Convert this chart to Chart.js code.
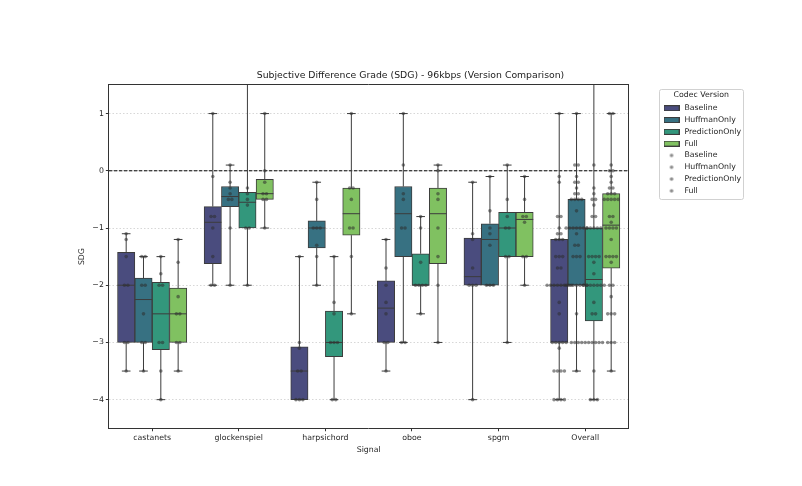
<!DOCTYPE html>
<html>
<head>
<meta charset="utf-8">
<script src="https://cdn.jsdelivr.net/npm/chart.js@4.4.1/dist/chart.umd.min.js"></script>
<style>
  html, body { margin: 0; padding: 0; background: #fff; }
</style>
</head>
<body>
<canvas id="sdgChart" width="802" height="486"></canvas>
<script>
// ─── Data (SDG scores per listener) ───
const signals = ['castanets', 'glockenspiel', 'harpsichord', 'oboe', 'spgm'];
const categories = [...signals, 'Overall'];
const versions = ['Baseline', 'HuffmanOnly', 'PredictionOnly', 'Full'];
const yTicks = [-4, -3, -2, -1, 0, 1];

const baselineScores = [
    [-1.1, -1.2, -1.5, -2, -2, -3, -3, -3.5],
    [1, -0.1, -0.8, -0.8, -1, -1.5, -2, -2],
    [-1.5, -3, -3.1, -3.5, -3.5, -4, -4, -4],
    [-1.2, -1.7, -2, -2.3, -2.5, -3, -3, -3.5],
    [-0.2, -1.1, -1.2, -1.7, -2, -2, -2, -4]
];
const huffmanScores = [
    [-1.5, -1.5, -2, -2, -2.5, -3, -3, -3.5],
    [0.1, -0.2, -0.3, -0.4, -0.5, -0.5, -1, -2],
    [-0.2, -0.5, -1, -1, -1, -1.3, -1.5, -2],
    [1, 0.1, -0.4, -0.5, -1, -1, -3, -3],
    [-0.1, -0.7, -1, -1.1, -1.3, -2, -2, -2]
];
const predictionScores = [
    [-1.5, -1.8, -2, -2, -3, -3, -3.5, -4],
    [2.5, -0.3, -0.4, -0.5, -0.6, -1, -1, -2],
    [-1.5, -2.3, -2.5, -3, -3, -3, -4, -4],
    [-0.8, -1, -1.6, -2, -2, -2, -2, -2.5],
    [0.1, -0.5, -0.8, -1, -1, -1.5, -1.5, -3]
];
const fullScores = [
    [-1.2, -1.6, -2.2, -2.5, -2.5, -3, -3, -3.5],
    [1, 0, -0.2, -0.4, -0.4, -0.5, -0.5, -1],
    [1, -0.3, -0.3, -0.5, -1, -1, -1.5, -2.5],
    [0.1, 0, -0.4, -0.5, -1, -1.5, -2, -3],
    [-0.1, -0.5, -0.8, -0.8, -0.9, -1.5, -1.5, -2]
];

// ─── Styles ───
const boxColors = ['#4a4c7e', '#377182', '#33977c', '#80c161'];
const lineColor = '#3c3c3c';
const dotColor = 'rgba(45, 45, 45, 0.55)';
const font = { family: 'DejaVu Sans', size: 7.8 };
const textColor = '#262626';
const dotStep = 0.04;       // swarm spacing, in category units
const capHalf = 0.05;
const medianHalf = 0.1;

// ─── Box statistics ───
function quantile(sorted, p) {
    const pos = (sorted.length - 1) * p;
    const lo = Math.floor(pos), hi = Math.ceil(pos);
    return sorted[lo] + (sorted[hi] - sorted[lo]) * (pos - lo);
}
function boxStats(values) {
    const s = [...values].sort((a, b) => a - b);
    return { min: s[0], q1: quantile(s, 0.25), med: quantile(s, 0.5), q3: quantile(s, 0.75), max: s[s.length - 1] };
}

const scoresByVersion = [baselineScores, huffmanScores, predictionScores, fullScores]
    .map(groups => [...groups, groups.flat()]);
const statsByVersion = scoresByVersion.map(groups => groups.map(boxStats));
const dodge = versions.map((_, j) => -0.4 + 0.2 * (j + 0.5));

function swarm(values, center) {
    const counts = {}, seen = {};
    values.forEach(v => { counts[v] = (counts[v] || 0) + 1; });
    return values.map(v => {
        const m = seen[v] = (seen[v] === undefined ? 0 : seen[v] + 1);
        return { x: center + (m - (counts[v] - 1) / 2) * dotStep, y: v };
    });
}

function whiskerSegments(stats, center) {
    const gap = { x: center, y: null };
    return [
        { x: center, y: stats.min }, { x: center, y: stats.q1 }, gap,
        { x: center, y: stats.q3 }, { x: center, y: stats.max }, gap,
        { x: center - capHalf, y: stats.min }, { x: center + capHalf, y: stats.min }, gap,
        { x: center - capHalf, y: stats.max }, { x: center + capHalf, y: stats.max }, gap,
        { x: center - medianHalf, y: stats.med }, { x: center + medianHalf, y: stats.med }, gap
    ];
}

// ─── Datasets ───
const datasets = [];
versions.forEach((v, j) => {
    datasets.push({
        type: 'bar', label: v,
        data: statsByVersion[j].map((s, i) => ({ x: i + dodge[j], y: [s.q1, s.q3] })),
        backgroundColor: boxColors[j], borderColor: lineColor, borderWidth: 1,
        borderSkipped: false, grouped: false, categoryPercentage: 1, barPercentage: 1,
        xAxisID: 'x2', yAxisID: 'y', order: 3
    });
});
versions.forEach((v, j) => {
    datasets.push({
        type: 'line', label: v + ' whiskers',
        data: statsByVersion[j].flatMap((s, i) => whiskerSegments(s, i + dodge[j])),
        borderColor: lineColor, borderWidth: 1, pointRadius: 0, spanGaps: false,
        fill: false, tension: 0, xAxisID: 'x2', yAxisID: 'y', order: 2
    });
});
versions.forEach((v, j) => {
    datasets.push({
        type: 'scatter', label: v,
        data: scoresByVersion[j].flatMap((vals, i) => swarm(vals, i + dodge[j])),
        backgroundColor: dotColor, borderWidth: 0, pointRadius: 1.8,
        xAxisID: 'x2', yAxisID: 'y', order: 1
    });
});
datasets.push({
    type: 'line', label: 'zero',
    data: [{ x: -0.5, y: 0 }, { x: 5.5, y: 0 }],
    borderColor: '#000', borderWidth: 1, borderDash: [3.5, 1.5], pointRadius: 0,
    xAxisID: 'x2', yAxisID: 'y', order: 5
});

// ─── Legend markers ───
function patchImage(color) {
    const c = document.createElement('canvas');
    c.width = 16; c.height = 6;
    const g = c.getContext('2d');
    g.fillStyle = color; g.fillRect(0, 0, 16, 6);
    g.strokeStyle = lineColor; g.lineWidth = 1; g.strokeRect(0.5, 0.5, 15, 5);
    return c;
}
function dotImage() {
    const c = document.createElement('canvas');
    c.width = 6; c.height = 6;
    const g = c.getContext('2d');
    g.fillStyle = dotColor; g.beginPath(); g.arc(3, 3, 1.8, 0, Math.PI * 2); g.fill();
    return c;
}
const legendMarks = [...boxColors.map(patchImage), ...versions.map(dotImage)];

const legendFrame = {
    id: 'legendFrame',
    afterInit(chart) {
        const lg = chart.legend;
        const fit = lg.fit;
        lg.fit = function () { fit.call(this); this.width -= 7; };
    },
    afterDraw(chart) {
        const lg = chart.legend, boxes = lg.legendHitBoxes;
        if (!boxes || !boxes.length) return;
        const last = boxes[boxes.length - 1];
        const top = lg.top + 4, bottom = last.top + last.height + 4;
        const ctx = chart.ctx;
        ctx.save();
        ctx.strokeStyle = 'rgba(204,204,204,0.9)';
        ctx.lineWidth = 1;
        ctx.beginPath();
        ctx.roundRect(Math.round(lg.left) + 0.5, Math.round(top) + 0.5, Math.round(lg.width) - 1, Math.round(bottom - top), 2);
        ctx.stroke();
        ctx.restore();
    }
};

Chart.defaults.font.family = 'DejaVu Sans';

new Chart(document.getElementById('sdgChart'), {
    type: 'bar',
    data: { labels: categories, datasets },
    options: {
        responsive: false,
        animation: false,
        events: [],
        layout: { padding: { left: 77, right: 58, top: 60, bottom: 31 } },
        scales: {
            x: {
                type: 'category', offset: true, display: true,
                grid: { display: true, offset: false, drawOnChartArea: false, tickLength: 3, tickColor: '#333' },
                border: { color: '#333', width: 1 },
                ticks: { font, color: textColor, padding: 2 },
                title: { display: true, text: 'Signal', font, color: textColor, padding: { top: 1, bottom: 0 } }
            },
            x2: {
                type: 'linear', position: 'top', min: -0.5, max: 5.5, offset: false,
                ticks: { display: false }, grid: { display: false, offset: false },
                border: { display: true, color: '#333', width: 1 },
                afterFit: s => { s.height = 0; }
            },
            y: {
                type: 'linear', min: -4.5, max: 1.5,
                afterBuildTicks: s => { s.ticks = yTicks.map(v => ({ value: v })); },
                ticks: {
                    font, color: textColor, padding: 2,
                    callback: v => (v < 0 ? '\u2212' + Math.abs(v) : String(v))
                },
                grid: { color: 'rgba(170,170,170,0.6)', lineWidth: 0.8, tickLength: 3, tickColor: '#333', tickWidth: 1 },
                border: { color: '#333', width: 1, dash: [1.5, 2] },
                title: { display: true, text: 'SDG', font, color: textColor, padding: { top: 0, bottom: 4 } }
            },
            y2: {
                type: 'linear', position: 'right',
                ticks: { display: false }, grid: { display: false },
                border: { display: true, color: '#333', width: 1 },
                afterFit: s => { s.width = 30; }
            }
        },
        plugins: {
            title: {
                display: true,
                text: 'Subjective Difference Grade (SDG) - 96kbps (Version Comparison)',
                font: { size: 9.3, weight: 'normal' }, color: '#1a1a1a',
                padding: { top: 10.4, bottom: 3.4 }
            },
            tooltip: { enabled: false },
            legend: {
                position: 'right', align: 'start', fullSize: false,
                title: { display: true, text: 'Codec Version', font, color: textColor, padding: { top: 6, bottom: 0 } },
                labels: {
                    usePointStyle: true, pointStyleWidth: 18, padding: 4,
                    font, color: textColor,
                    generateLabels: () => [...versions, ...versions].map((text, k) => ({
                        text, pointStyle: legendMarks[k], fontColor: textColor,
                        lineWidth: 0, hidden: false, datasetIndex: k < 4 ? k : k + 4
                    }))
                }
            }
        }
    },
    plugins: [legendFrame]
});
</script>
</body>
</html>
